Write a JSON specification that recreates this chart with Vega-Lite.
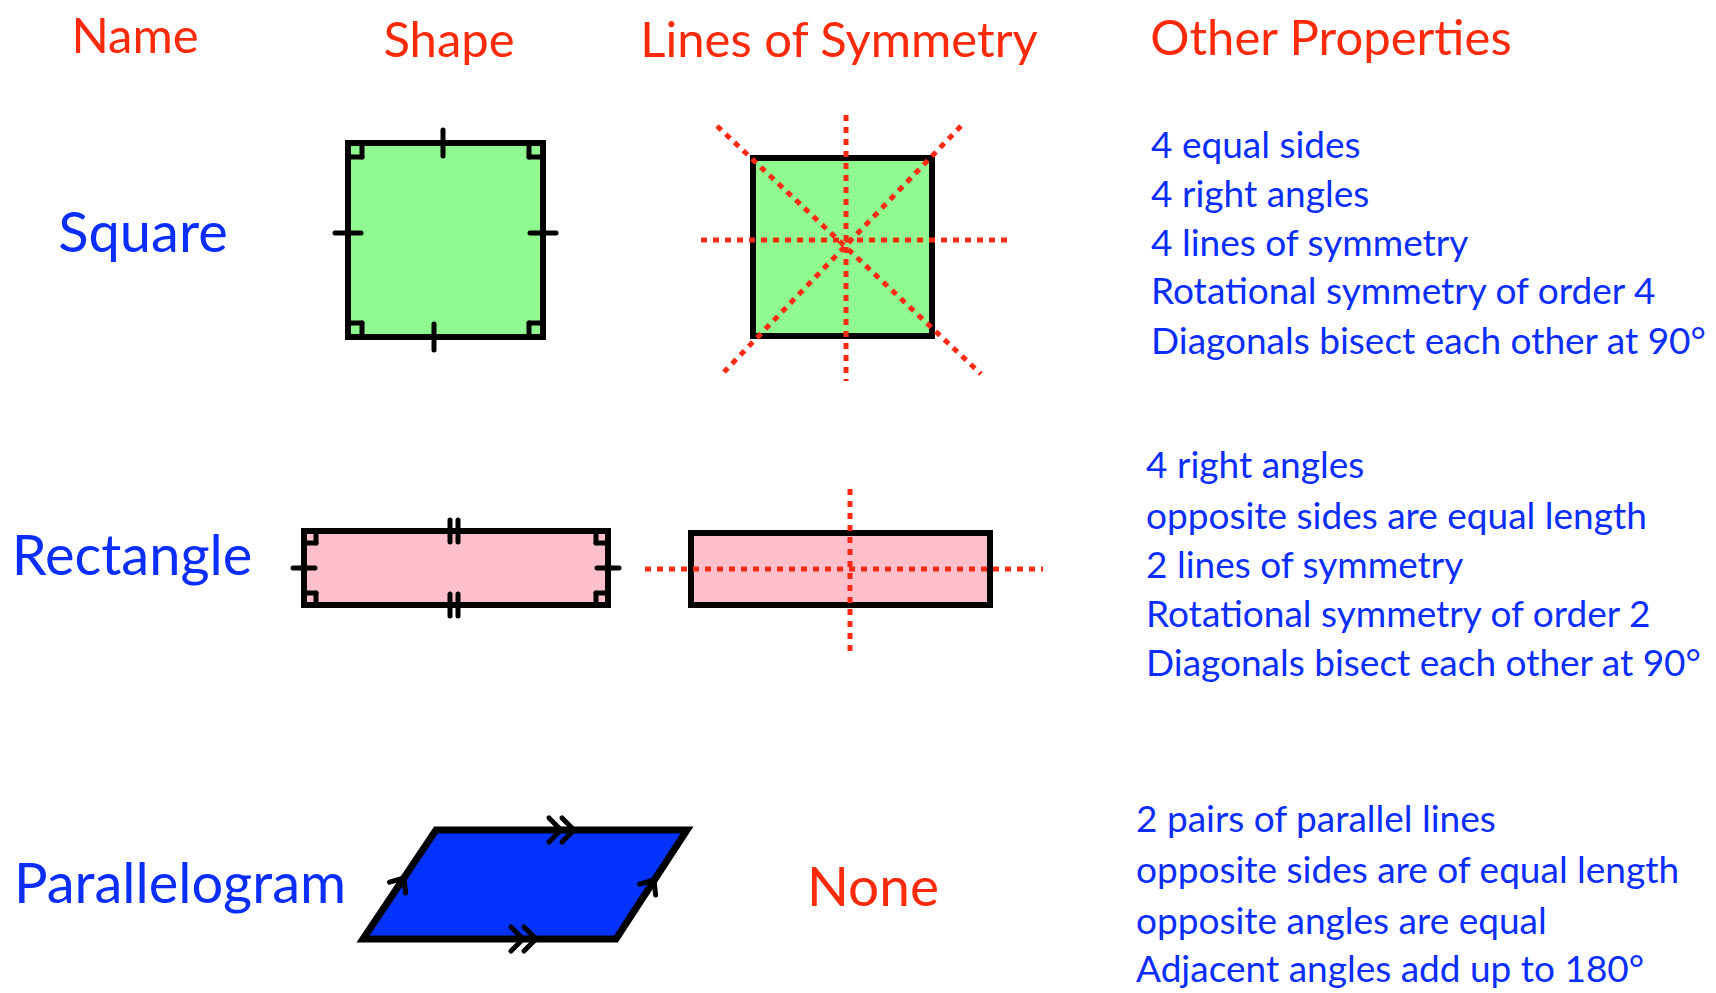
{
  "$schema": "https://vega.github.io/schema/vega-lite/v6.json",
  "width": 1716,
  "height": 993,
  "autosize": {"type": "fit", "contains": "padding"},
  "padding": 0,
  "background": "white",
  "config": {"view": {"stroke": null}},
  "datasets": {
    "rects": [
      {"kind": "square", "x1": 348, "x2": 543, "y1": 143, "y2": 337},
      {"kind": "square", "x1": 753, "x2": 932, "y1": 158, "y2": 336},
      {"kind": "rectangle", "x1": 304, "x2": 608, "y1": 531, "y2": 605},
      {"kind": "rectangle", "x1": 691, "x2": 990, "y1": 533, "y2": 605}
    ],
    "para": [
      {"y": 830, "left": 436, "right": 687},
      {"y": 939, "left": 363, "right": 616}
    ],
    "marks": [
      {"x1": 443, "y1": 130, "x2": 443, "y2": 156},
      {"x1": 434, "y1": 324, "x2": 434, "y2": 350},
      {"x1": 335, "y1": 233, "x2": 361, "y2": 233},
      {"x1": 530, "y1": 233, "x2": 556, "y2": 233},
      {"x1": 362, "y1": 143, "x2": 362, "y2": 157},
      {"x1": 348, "y1": 157, "x2": 362, "y2": 157},
      {"x1": 529, "y1": 143, "x2": 529, "y2": 157},
      {"x1": 529, "y1": 157, "x2": 543, "y2": 157},
      {"x1": 362, "y1": 323, "x2": 362, "y2": 337},
      {"x1": 348, "y1": 323, "x2": 362, "y2": 323},
      {"x1": 529, "y1": 323, "x2": 529, "y2": 337},
      {"x1": 529, "y1": 323, "x2": 543, "y2": 323},
      {"x1": 450, "y1": 520, "x2": 450, "y2": 542},
      {"x1": 458, "y1": 520, "x2": 458, "y2": 542},
      {"x1": 450, "y1": 594, "x2": 450, "y2": 616},
      {"x1": 458, "y1": 594, "x2": 458, "y2": 616},
      {"x1": 293, "y1": 568, "x2": 315, "y2": 568},
      {"x1": 597, "y1": 568, "x2": 619, "y2": 568},
      {"x1": 316, "y1": 531, "x2": 316, "y2": 543},
      {"x1": 304, "y1": 543, "x2": 316, "y2": 543},
      {"x1": 596, "y1": 531, "x2": 596, "y2": 543},
      {"x1": 596, "y1": 543, "x2": 608, "y2": 543},
      {"x1": 316, "y1": 593, "x2": 316, "y2": 605},
      {"x1": 304, "y1": 593, "x2": 316, "y2": 593},
      {"x1": 596, "y1": 593, "x2": 596, "y2": 605},
      {"x1": 596, "y1": 593, "x2": 608, "y2": 593},
      {"x1": 549, "y1": 818, "x2": 561, "y2": 830},
      {"x1": 561, "y1": 830, "x2": 549, "y2": 842},
      {"x1": 562, "y1": 818, "x2": 574, "y2": 830},
      {"x1": 574, "y1": 830, "x2": 562, "y2": 842},
      {"x1": 511, "y1": 927, "x2": 523, "y2": 939},
      {"x1": 523, "y1": 939, "x2": 511, "y2": 951},
      {"x1": 524, "y1": 927, "x2": 536, "y2": 939},
      {"x1": 536, "y1": 939, "x2": 524, "y2": 951},
      {"x1": 389.6, "y1": 882.2, "x2": 404, "y2": 878},
      {"x1": 404, "y1": 878, "x2": 405.6, "y2": 892.9},
      {"x1": 639.6, "y1": 884.2, "x2": 654, "y2": 880},
      {"x1": 654, "y1": 880, "x2": 655.6, "y2": 894.9}
    ],
    "sym": [
      {"x1": 846, "y1": 115, "x2": 846, "y2": 381},
      {"x1": 701, "y1": 240, "x2": 1007, "y2": 240},
      {"x1": 717, "y1": 126, "x2": 981, "y2": 374},
      {"x1": 961, "y1": 126, "x2": 724, "y2": 372},
      {"x1": 645, "y1": 569, "x2": 1043, "y2": 569},
      {"x1": 850, "y1": 489, "x2": 850, "y2": 652}
    ],
    "headers": [
      {"x": 135, "y": 38, "text": "Name"},
      {"x": 449, "y": 42, "text": "Shape"},
      {"x": 839, "y": 42, "text": "Lines of Symmetry"},
      {"x": 1331, "y": 40, "text": "Other Properties"}
    ],
    "names": [
      {"x": 143, "y": 235, "text": "Square"},
      {"x": 132, "y": 558, "text": "Rectangle"},
      {"x": 180, "y": 886, "text": "Parallelogram"}
    ],
    "none": [
      {"x": 873, "y": 889, "text": "None"}
    ],
    "props": [
      {"x": 1151, "y": 147, "text": "4 equal sides"},
      {"x": 1151, "y": 196, "text": "4 right angles"},
      {"x": 1151, "y": 245, "text": "4 lines of symmetry"},
      {"x": 1151, "y": 293, "text": "Rotational symmetry of order 4"},
      {"x": 1151, "y": 343, "text": "Diagonals bisect each other at 90°"},
      {"x": 1146, "y": 467, "text": "4 right angles"},
      {"x": 1146, "y": 518, "text": "opposite sides are equal length"},
      {"x": 1146, "y": 567, "text": "2 lines of symmetry"},
      {"x": 1146, "y": 616, "text": "Rotational symmetry of order 2"},
      {"x": 1146, "y": 665, "text": "Diagonals bisect each other at 90°"},
      {"x": 1136, "y": 821, "text": "2 pairs of parallel lines"},
      {"x": 1136, "y": 872, "text": "opposite sides are of equal length"},
      {"x": 1136, "y": 923, "text": "opposite angles are equal"},
      {"x": 1136, "y": 971, "text": "Adjacent angles add up to 180°"}
    ]
  },
  "layer": [
    {
      "data": {"name": "rects"},
      "mark": {"type": "rect", "stroke": "black", "strokeWidth": 6},
      "encoding": {
        "x": {"field": "x1", "type": "quantitative", "scale": {"domain": [0, 1716], "nice": false, "zero": false}, "axis": null},
        "x2": {"field": "x2"},
        "y": {"field": "y1", "type": "quantitative", "scale": {"domain": [0, 993], "nice": false, "zero": false, "reverse": true}, "axis": null},
        "y2": {"field": "y2"},
        "fill": {"field": "kind", "type": "nominal", "scale": {"domain": ["square", "rectangle"], "range": ["#90F98F", "#FFC0CB"]}, "legend": null}
      }
    },
    {
      "data": {"name": "para"},
      "mark": {"type": "area", "orient": "horizontal", "fill": "#0433FF", "stroke": "black", "strokeWidth": 7, "fillOpacity": 1},
      "encoding": {
        "y": {"field": "y", "type": "quantitative", "scale": {"domain": [0, 993], "nice": false, "zero": false, "reverse": true}, "axis": null},
        "x": {"field": "left", "type": "quantitative", "scale": {"domain": [0, 1716], "nice": false, "zero": false}, "axis": null},
        "x2": {"field": "right"}
      }
    },
    {
      "data": {"name": "marks"},
      "mark": {"type": "rule", "color": "black", "strokeWidth": 5, "strokeCap": "round"},
      "encoding": {
        "x": {"field": "x1", "type": "quantitative", "scale": {"domain": [0, 1716], "nice": false, "zero": false}, "axis": null},
        "y": {"field": "y1", "type": "quantitative", "scale": {"domain": [0, 993], "nice": false, "zero": false, "reverse": true}, "axis": null},
        "x2": {"field": "x2"},
        "y2": {"field": "y2"}
      }
    },
    {
      "data": {"name": "sym"},
      "mark": {"type": "rule", "color": "#FF2A14", "strokeWidth": 5, "strokeDash": [6, 6]},
      "encoding": {
        "x": {"field": "x1", "type": "quantitative", "scale": {"domain": [0, 1716], "nice": false, "zero": false}, "axis": null},
        "y": {"field": "y1", "type": "quantitative", "scale": {"domain": [0, 993], "nice": false, "zero": false, "reverse": true}, "axis": null},
        "x2": {"field": "x2"},
        "y2": {"field": "y2"}
      }
    },
    {
      "data": {"name": "headers"},
      "mark": {"type": "text", "color": "#FF2A0A", "font": "Comic Sans MS, Lato", "fontSize": 49, "align": "center", "baseline": "middle"},
      "encoding": {
        "x": {"field": "x", "type": "quantitative", "scale": {"domain": [0, 1716], "nice": false, "zero": false}, "axis": null},
        "y": {"field": "y", "type": "quantitative", "scale": {"domain": [0, 993], "nice": false, "zero": false, "reverse": true}, "axis": null},
        "text": {"field": "text"}
      }
    },
    {
      "data": {"name": "names"},
      "mark": {"type": "text", "color": "#0A2EFF", "font": "Comic Sans MS, Lato", "fontSize": 56, "align": "center", "baseline": "middle"},
      "encoding": {
        "x": {"field": "x", "type": "quantitative", "scale": {"domain": [0, 1716], "nice": false, "zero": false}, "axis": null},
        "y": {"field": "y", "type": "quantitative", "scale": {"domain": [0, 993], "nice": false, "zero": false, "reverse": true}, "axis": null},
        "text": {"field": "text"}
      }
    },
    {
      "data": {"name": "none"},
      "mark": {"type": "text", "color": "#FF2A0A", "font": "Comic Sans MS, Lato", "fontSize": 55, "align": "center", "baseline": "middle"},
      "encoding": {
        "x": {"field": "x", "type": "quantitative", "scale": {"domain": [0, 1716], "nice": false, "zero": false}, "axis": null},
        "y": {"field": "y", "type": "quantitative", "scale": {"domain": [0, 993], "nice": false, "zero": false, "reverse": true}, "axis": null},
        "text": {"field": "text"}
      }
    },
    {
      "data": {"name": "props"},
      "mark": {"type": "text", "color": "#0A2EFF", "font": "Comic Sans MS, Lato", "fontSize": 37, "align": "left", "baseline": "middle"},
      "encoding": {
        "x": {"field": "x", "type": "quantitative", "scale": {"domain": [0, 1716], "nice": false, "zero": false}, "axis": null},
        "y": {"field": "y", "type": "quantitative", "scale": {"domain": [0, 993], "nice": false, "zero": false, "reverse": true}, "axis": null},
        "text": {"field": "text"}
      }
    }
  ]
}
